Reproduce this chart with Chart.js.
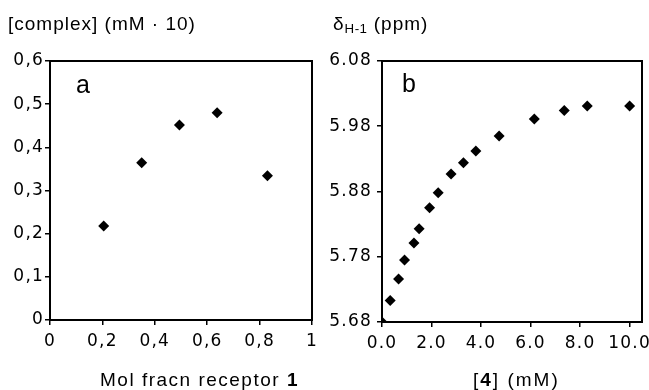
<!DOCTYPE html>
<html>
<head>
<meta charset="utf-8">
<script src="https://cdn.jsdelivr.net/npm/chart.js@4/dist/chart.umd.min.js"></script>
<style>
  html, body { margin: 0; padding: 0; background: #fff; }
  #wrap { position: relative; width: 649px; height: 390px; overflow: hidden; font-family: "Liberation Sans", Arial, sans-serif; color: #000; }
  .box { position: absolute; top: 0; height: 390px; }
  .txt { position: absolute; white-space: nowrap; line-height: 1; }
  sub { font-size: 70%; vertical-align: -0.25em; letter-spacing: 0.5px; }
</style>
</head>
<body>
<div id="wrap">
  <div class="box" style="left:0;width:325px;"><canvas id="ca" width="325" height="390"></canvas></div>
  <div class="box" style="left:325px;width:324px;"><canvas id="cb" width="324" height="390"></canvas></div>
  <div class="txt" style="left:8px;top:14px;font-size:19px;letter-spacing:1px;">[complex] (mM · 10)</div>
  <div class="txt" style="left:333px;top:14px;font-size:19px;letter-spacing:1px;">δ<sub>H-1</sub> (ppm)</div>
  <div class="txt" style="left:100px;top:370px;font-size:19px;letter-spacing:1.5px;">Mol fracn receptor <b>1</b></div>
  <div class="txt" style="left:473px;top:370px;font-size:19px;letter-spacing:2px;">[<b>4</b>] (mM)</div>
  <div class="txt" style="left:76px;top:72px;font-size:25px;">a</div>
  <div class="txt" style="left:402px;top:71px;font-size:25px;">b</div>
</div>
<script>
// Panel a: mole fraction (Job plot)
const molFracA = [0.205, 0.35, 0.494, 0.638, 0.83];
const complexA = [0.218, 0.364, 0.452, 0.480, 0.334];
const xTicksA = [0, 0.2, 0.4, 0.6, 0.8, 1];
const yTicksA = [0, 0.1, 0.2, 0.3, 0.4, 0.5, 0.6];

// Panel b: titration
const concB = [0, 0.33, 0.67, 0.91, 1.29, 1.50, 1.92, 2.27, 2.79, 3.29, 3.79, 4.73, 6.15, 7.36, 8.29, 10.0];
const shiftB = [5.680, 5.713, 5.746, 5.775, 5.801, 5.823, 5.855, 5.878, 5.907, 5.924, 5.942, 5.965, 5.991, 6.004, 6.011, 6.011];
const xTicksB = [0, 2, 4, 6, 8, 10];
const yTicksB = [5.68, 5.78, 5.88, 5.98, 6.08];

const FONT = { family: '"DejaVu Sans", sans-serif', size: 17 };

const spacing = {
  id: 'spacing',
  beforeUpdate(chart) { chart.ctx.letterSpacing = '1.2px'; },
  beforeDraw(chart) { chart.ctx.letterSpacing = '1.2px'; }
};

const frame = {
  id: 'frame',
  afterDraw(chart) {
    const a = chart.chartArea, ctx = chart.ctx;
    ctx.save();
    ctx.strokeStyle = '#000';
    ctx.lineWidth = 2;
    ctx.strokeRect(a.left, a.top, a.right - a.left, a.bottom - a.top);
    ctx.restore();
  }
};

function makeChart(id, xs, ys, opt) {
  const data = xs.map((x, i) => ({ x: x, y: ys[i] }));
  return new Chart(document.getElementById(id), {
    type: 'scatter',
    data: { datasets: [{ data: data, pointStyle: 'rectRot', pointRadius: 5.5, pointHoverRadius: 5.5,
      backgroundColor: '#000', borderColor: '#000', borderWidth: 0 }] },
    options: {
      responsive: false, animation: false, devicePixelRatio: 1,
      layout: { padding: opt.padding },
      plugins: { legend: { display: false }, tooltip: { enabled: false } },
      scales: {
        x: {
          type: 'linear', min: opt.xmin, max: opt.xmax,
          afterBuildTicks: s => { s.ticks = opt.xTicks.map(v => ({ value: v })); },
          afterFit: s => { s.height = opt.xh; s.paddingLeft = 0; s.paddingRight = 0; },
          grid: { display: true, drawOnChartArea: false, drawTicks: true, tickLength: 5, color: '#000', lineWidth: 1.5 },
          border: { display: true, color: '#000', width: 2 },
          ticks: { color: '#000', font: FONT, padding: 6, maxRotation: 0, autoSkip: false, callback: opt.xfmt }
        },
        y: {
          type: 'linear', min: opt.ymin, max: opt.ymax,
          afterBuildTicks: s => { s.ticks = opt.yTicks.map(v => ({ value: v })); },
          afterFit: s => { s.width = opt.yw; s.paddingTop = 0; s.paddingBottom = 0; },
          grid: { display: true, drawOnChartArea: false, drawTicks: true, tickLength: 5, color: '#000', lineWidth: 1.5 },
          border: { display: true, color: '#000', width: 2 },
          ticks: { color: '#000', font: FONT, padding: opt.ypad, autoSkip: false, callback: opt.yfmt }
        }
      }
    },
    plugins: [spacing, frame]
  });
}

const commaFmt = v => (v === 0 || v === 1) ? String(v) : v.toFixed(1).replace('.', ',');

makeChart('ca', molFracA, complexA, {
  padding: { left: 0, top: 61, right: 13, bottom: 0 },
  xmin: 0, xmax: 1, ymin: 0, ymax: 0.6, xTicks: xTicksA, yTicks: yTicksA,
  xh: 70, yw: 50, ypad: 1, xfmt: commaFmt, yfmt: commaFmt
});

makeChart('cb', concB, shiftB, {
  padding: { left: 0, top: 61, right: 7, bottom: 0 },
  xmin: 0, xmax: 10.5, ymin: 5.68, ymax: 6.08, xTicks: xTicksB, yTicks: yTicksB,
  xh: 68, yw: 57, ypad: 5, xfmt: v => v.toFixed(1), yfmt: v => v.toFixed(2)
});
</script>
</body>
</html>
